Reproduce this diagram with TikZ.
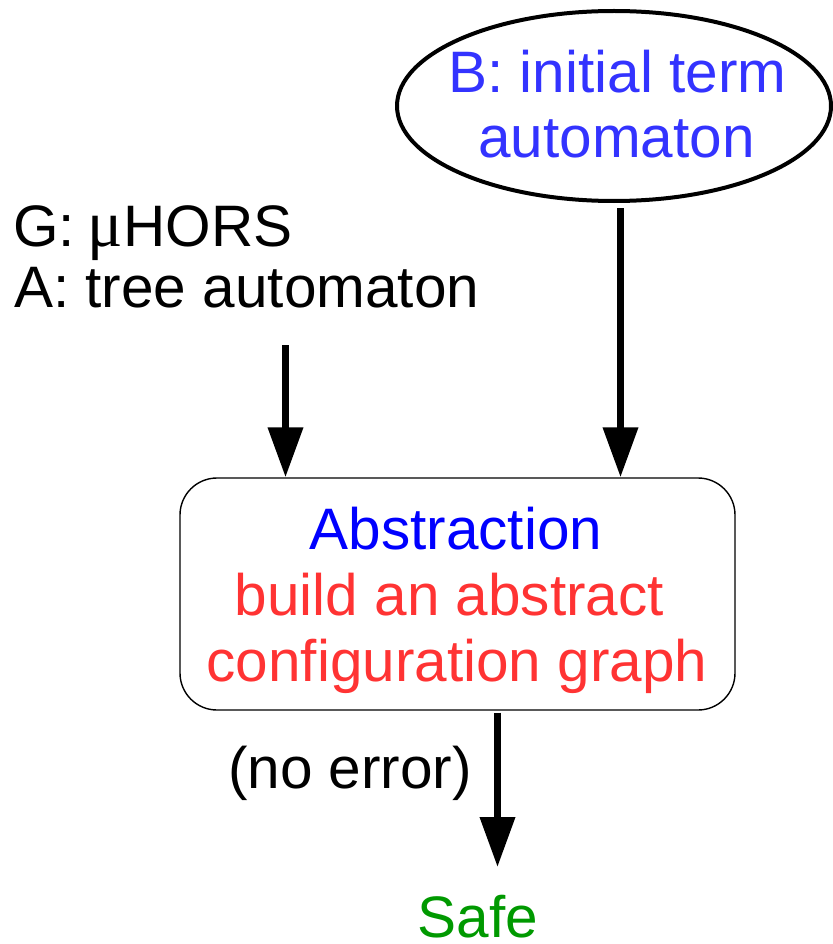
\documentclass[tikz,border=0pt]{standalone}
\usepackage{fontspec}
\setmainfont{Liberation Sans}
\newfontfamily\greekserif{Liberation Serif}
\usetikzlibrary{arrows.meta,shapes.geometric}
\definecolor{termblue}{HTML}{3333FF}
\definecolor{absblue}{HTML}{0000FF}
\definecolor{buildred}{HTML}{FF3333}
\definecolor{safegreen}{HTML}{009900}
\begin{document}
\begin{tikzpicture}[x=1pt,y=-1pt,
  lbl/.style={anchor=base, inner sep=0pt, font=\fontsize{58.5}{66}\selectfont},
  lblw/.style={lbl, anchor=base west},
  flow/.style={line width=7pt, -{Triangle[length=50pt,width=34pt]}},
]
\useasboundingbox (0,0) rectangle (832,944);

% input automaton (ellipse)
\node[draw, ellipse, line width=4pt, minimum width=434pt, minimum height=190pt,
      inner sep=0pt] (ell) at (614,106) {};
\node[lbl, text=termblue] (b1) at (617.5,93) {B: initial term};
\node[lbl, text=termblue] (b2) at (616.5,158) {automaton};

% grammar and property automaton
\node[lblw] (g) at (13,246) {G:\kern-4pt\ {\greekserif\fontsize{66}{66}\selectfont μ}\kern1pt HORS};
\node[lblw] (a) at (14,307) {A: tree automaton};

% abstraction step
\node[draw, line width=1.4pt, rounded corners=37pt, minimum width=555pt,
      minimum height=232pt, inner sep=0pt] (box) at (457.5,594) {};
\node[lbl, text=absblue] (t1) at (456,549) {Abstraction};
\node[lbl, text=buildred] (t2) at (449.5,615) {build an abstract};
\node[lbl, text=buildred] (t3) at (457,681) {configuration graph};

% result
\node[lblw] (noerr) at (228,788) {(no error)};
\node[lbl, text=safegreen] (safe) at (478,937) {Safe};

% connectors
\coordinate (gin) at (285.5,345);
\coordinate (bin) at (620.5,208);
\coordinate (tip) at (497.5,867);
\draw[flow] (gin) -- (gin |- box.north);
\draw[flow] (bin) -- (bin |- box.north);
\draw[flow] ([yshift=-2pt]box.south -| tip) -- (tip);
\end{tikzpicture}
\end{document}
